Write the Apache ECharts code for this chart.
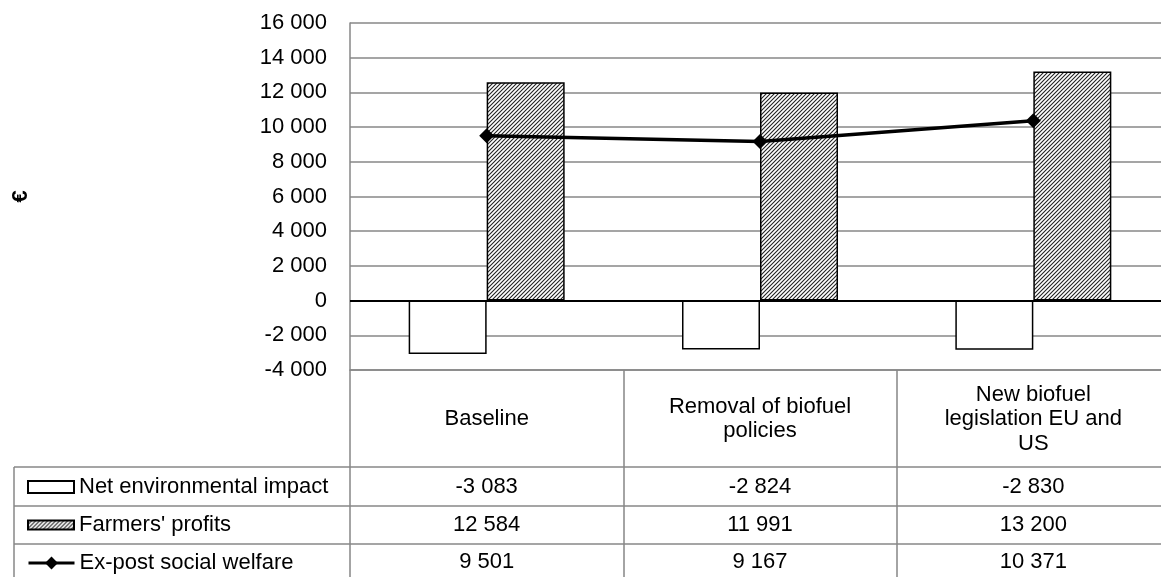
<!DOCTYPE html>
<html>
<head>
<meta charset="utf-8">
<script src="https://cdn.jsdelivr.net/npm/echarts@6/dist/echarts.min.js"></script>
<style>
  html, body { margin: 0; padding: 0; background: #fff; overflow: hidden; }
  #chart { width: 1176px; height: 577px; }
</style>
</head>
<body>
<div id="chart"></div>
<script>
// Scenario categories (line breaks as shown in the table header)
const categories = ['Baseline', 'Removal of biofuel\npolicies', 'New biofuel\nlegislation EU and\nUS'];
const seriesNames = ['Net environmental impact', "Farmers' profits", 'Ex-post social welfare'];
// Values in euros
const netEnvironmentalImpact = [-3083, -2824, -2830];
const farmersProfits = [12584, 11991, 13200];
const expostSocialWelfare = [9501, 9167, 10371];
// Value axis range
const yMin = -4000;
const yMax = 16000;
const yStep = 2000;

const FONT = "'Liberation Sans', Arial, sans-serif";
const GRID_GRAY = '#878787';

// thousands separated by a space, e.g. 12 584
function fmt(v) {
  const s = Math.abs(v).toString().replace(/\B(?=(\d{3})+(?!\d))/g, ' ');
  return (v < 0 ? '-' : '') + s;
}

// diagonal hatch fill for the profits bars
function hatch() {
  const c = document.createElement('canvas');
  c.width = 4; c.height = 4;
  const ctx = c.getContext('2d');
  ctx.fillStyle = '#fff';
  ctx.fillRect(0, 0, 4, 4);
  ctx.strokeStyle = '#222';
  ctx.lineWidth = 1.1;
  ctx.beginPath();
  ctx.moveTo(-1, 5); ctx.lineTo(5, -1);
  ctx.moveTo(-1, 1); ctx.lineTo(1, -1);
  ctx.moveTo(3, 5); ctx.lineTo(5, 3);
  ctx.stroke();
  return c;
}

// one legend per table row, left column of the data table
const legendTops = [471, 509, 547];
const legendIcons = ['rect', 'rect', null];
const legendHeights = [12, 9, 16];
const legends = seriesNames.map(function (name, i) {
  const item = { name: name };
  if (legendIcons[i]) item.icon = legendIcons[i];
  return {
    orient: 'vertical',
    left: 22,
    top: legendTops[i],
    itemWidth: 46,
    itemHeight: legendHeights[i],
    itemGap: 6,
    selectedMode: false,
    textStyle: { fontFamily: FONT, fontSize: 22, color: '#000' },
    lineStyle: { width: 3, color: '#000' },
    data: [item]
  };
});

const chart = echarts.init(document.getElementById('chart'), null, { renderer: 'canvas' });

const option = {
  animation: false,
  backgroundColor: '#fff',
  textStyle: { fontFamily: FONT },
  grid: { left: 350, top: 23, right: 6, bottom: 207, containLabel: false },
  legend: legends,
  xAxis: {
    type: 'category',
    data: categories,
    boundaryGap: true,
    axisLine: { onZero: false, lineStyle: { color: GRID_GRAY, width: 1.5 } },
    axisTick: { show: true, inside: false, length: 210, alignWithLabel: false,
                lineStyle: { color: GRID_GRAY, width: 1.5 } },
    axisLabel: {
      margin: 49,
      verticalAlign: 'middle',
      align: 'center',
      lineHeight: 24.5,
      fontFamily: FONT,
      fontSize: 22,
      color: '#000',
      interval: 0
    },
    splitLine: { show: false }
  },
  yAxis: {
    type: 'value',
    min: yMin,
    max: yMax,
    interval: yStep,
    name: '€',
    nameLocation: 'middle',
    nameGap: 318,
    nameTextStyle: { fontFamily: FONT, fontSize: 22, fontWeight: 'bold', color: '#000' },
    axisLine: { show: true, lineStyle: { color: GRID_GRAY, width: 1.5 } },
    axisTick: { show: false },
    axisLabel: { margin: 23, fontFamily: FONT, fontSize: 22, color: '#000', formatter: fmt },
    splitLine: { show: true, lineStyle: { color: GRID_GRAY, width: 1.5 } }
  },
  series: [
    {
      name: seriesNames[0],
      type: 'bar',
      data: netEnvironmentalImpact,
      barWidth: 78,
      barGap: '0%',
      itemStyle: { color: '#fff', borderColor: '#000', borderWidth: 1.5 },
      markLine: {
        silent: true,
        symbol: 'none',
        label: { show: false },
        lineStyle: { color: '#000', width: 2, type: 'solid' },
        data: [{ yAxis: 0 }]
      }
    },
    {
      name: seriesNames[1],
      type: 'bar',
      data: farmersProfits,
      barWidth: 78,
      barGap: '0%',
      itemStyle: { color: { image: hatch(), repeat: 'repeat' }, borderColor: '#000', borderWidth: 1.5 }
    },
    {
      name: seriesNames[2],
      type: 'line',
      data: expostSocialWelfare,
      symbol: 'diamond',
      symbolSize: 15,
      z: 5,
      lineStyle: { color: '#000', width: 3.5 },
      itemStyle: { color: '#000' }
    }
  ]
};

chart.setOption(option);

// Data table beneath the plot: row rules and the values per category
const rowRules = [467, 506, 544];
const rowCenters = [487, 525, 562];
const rows = [netEnvironmentalImpact, farmersProfits, expostSocialWelfare];
const graphics = [];
rowRules.forEach(function (y) {
  graphics.push({
    type: 'line', silent: true,
    shape: { x1: 14, y1: y, x2: 1176, y2: y },
    style: { stroke: GRID_GRAY, lineWidth: 1.5 }
  });
});
graphics.push({
  type: 'line', silent: true,
  shape: { x1: 14, y1: 467, x2: 14, y2: 577 },
  style: { stroke: GRID_GRAY, lineWidth: 1.5 }
});
rows.forEach(function (vals, r) {
  vals.forEach(function (v, i) {
    const x = chart.convertToPixel({ xAxisIndex: 0 }, i);
    graphics.push({
      type: 'text', silent: true,
      x: x, y: rowCenters[r],
      style: {
        text: fmt(v), fill: '#000',
        font: '22px ' + FONT,
        align: 'center', verticalAlign: 'middle'
      }
    });
  });
});
chart.setOption({ graphic: graphics });
</script>
</body>
</html>
